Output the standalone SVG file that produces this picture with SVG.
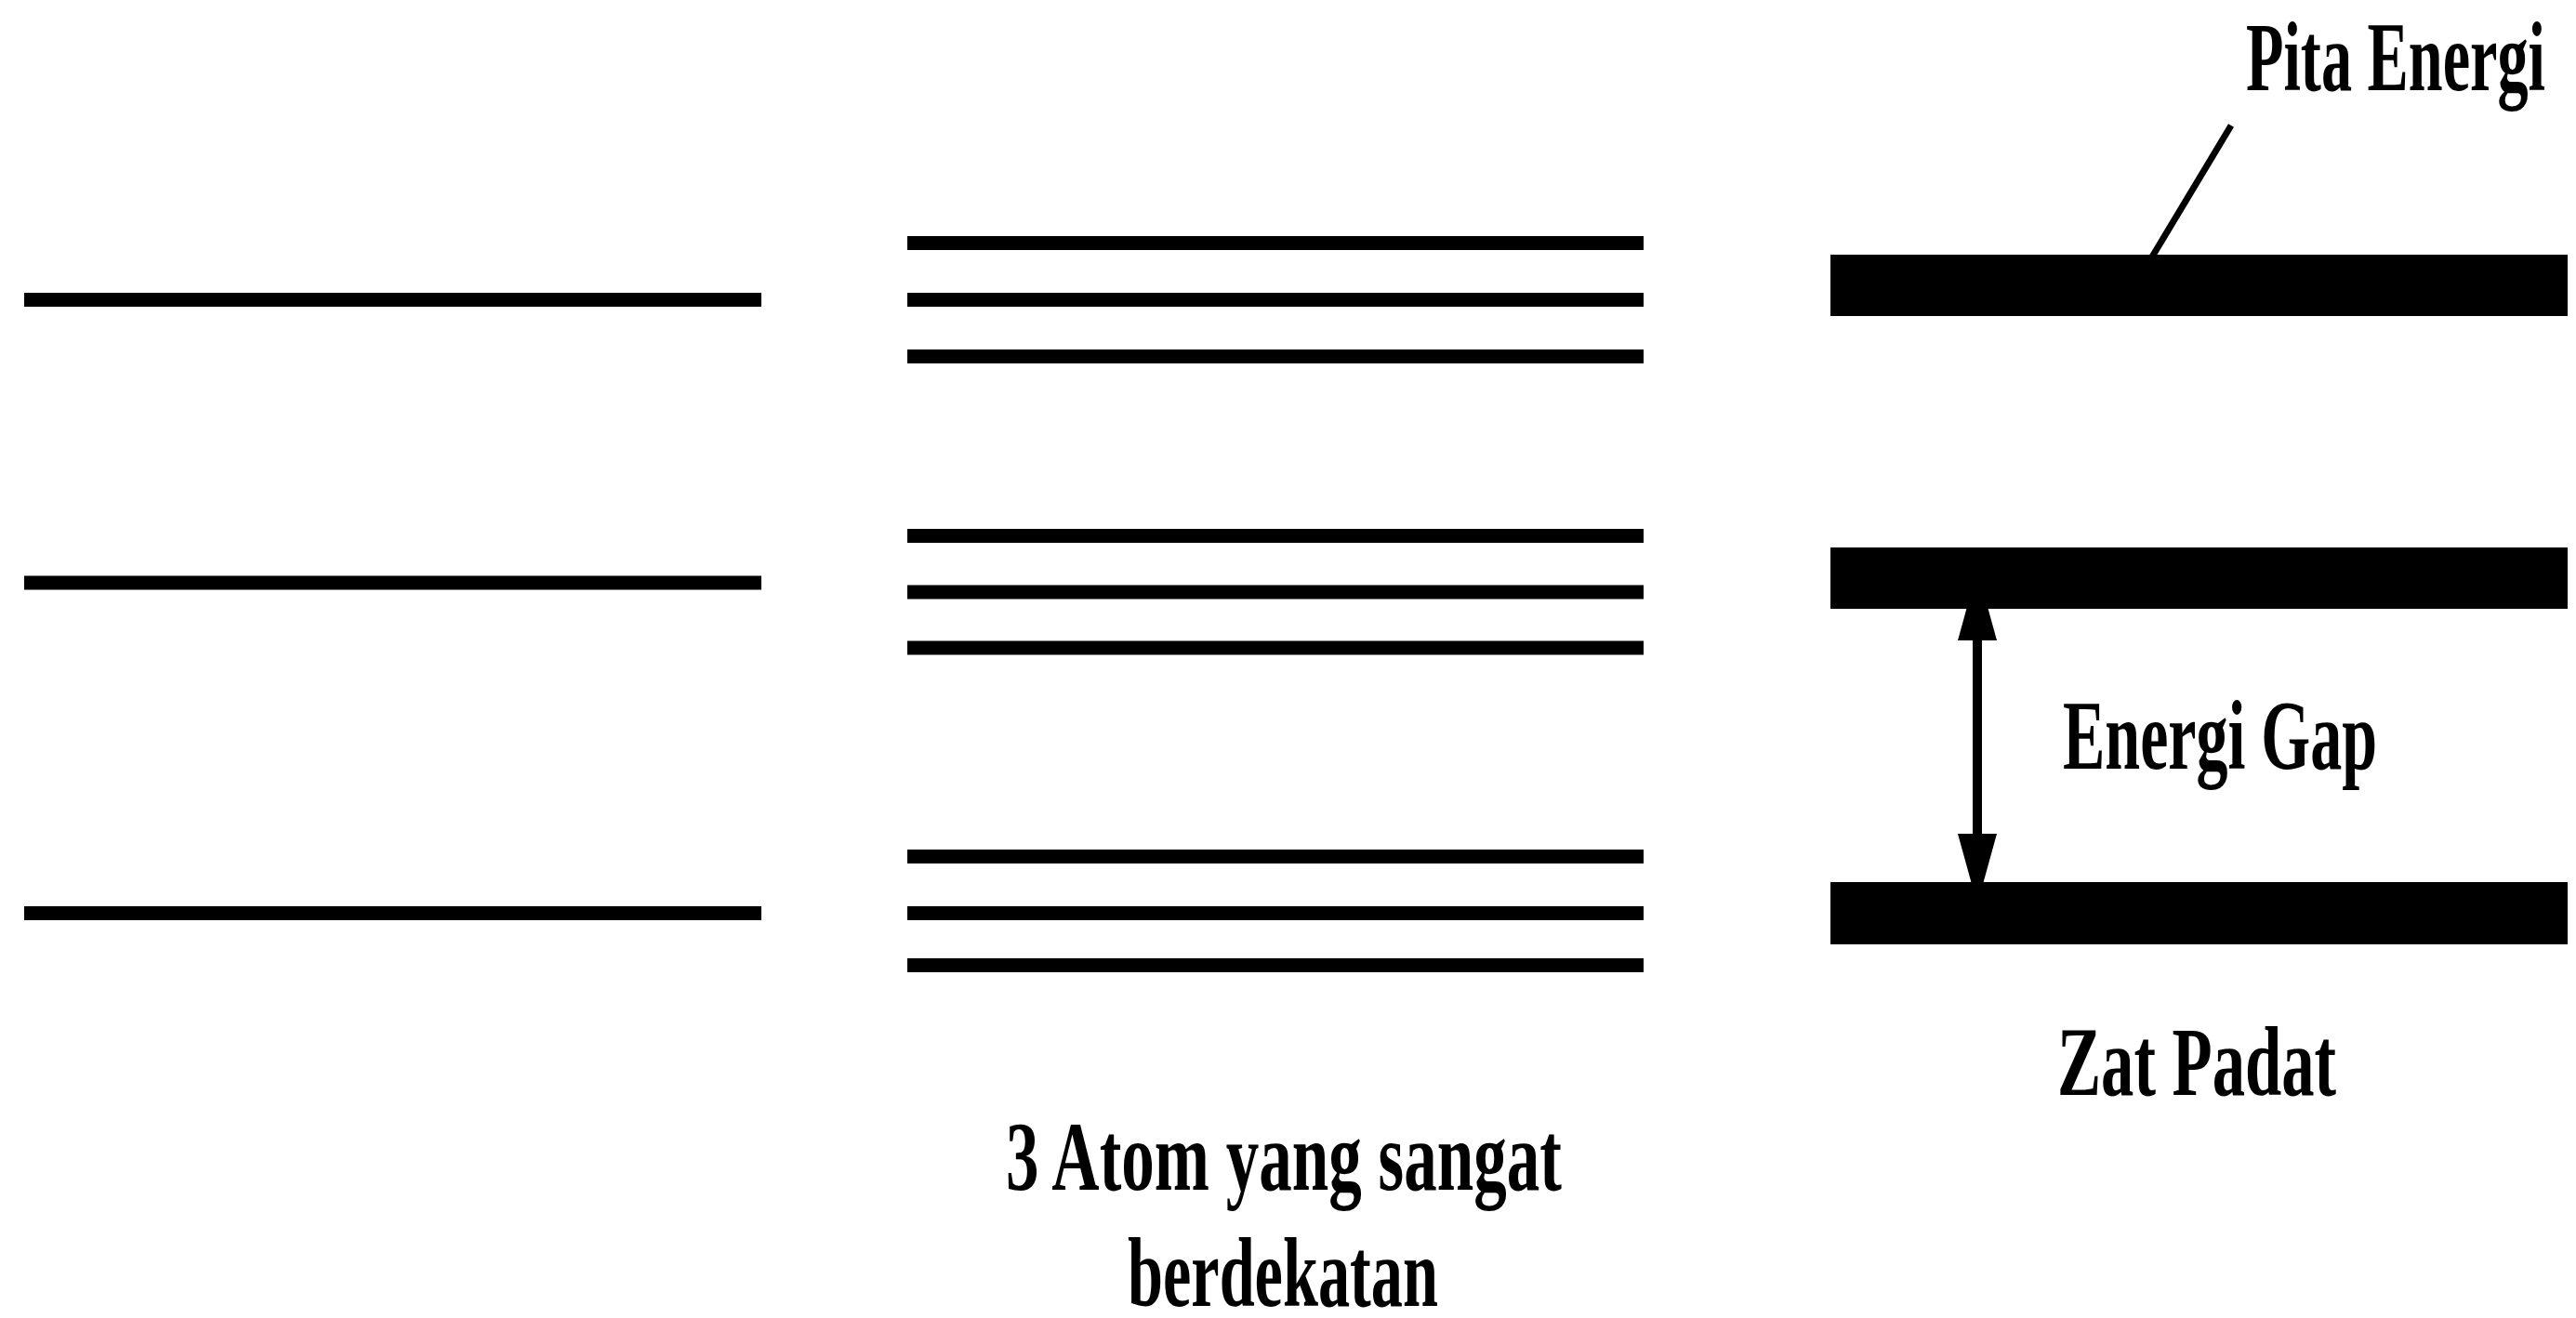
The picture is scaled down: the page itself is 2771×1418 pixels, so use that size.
<svg xmlns="http://www.w3.org/2000/svg" width="2771" height="1418" viewBox="0 0 2771 1418">
<style>
.lvl{stroke:#000;stroke-width:15;fill:none}
.band{fill:#000}
.lbl{font-family:"Liberation Serif","Times New Roman",serif;font-weight:bold;font-size:106px;fill:#000}
.conn{stroke:#000;fill:none}
</style>
<defs>
<marker id="head" markerUnits="userSpaceOnUse" markerWidth="76" markerHeight="42" refX="10" refY="21" orient="auto-start-reverse" viewBox="0 0 76 42">
<path d="M0,0 L76,21 L0,42 z" fill="#000"/>
</marker>
</defs>
<rect width="2771" height="1418" fill="#fff"/>
<g id="connectors">
<line class="conn" x1="2400" y1="135" x2="2314" y2="278" stroke-width="7"/>
<line class="conn" x1="2127" y1="679" x2="2127" y2="907" stroke-width="10" marker-start="url(#head)" marker-end="url(#head)"/>
</g>
<g id="atom-tunggal">
<line class="lvl" x1="26" y1="322.5" x2="819" y2="322.5"/>
<line class="lvl" x1="26" y1="627" x2="819" y2="627"/>
<line class="lvl" x1="26" y1="982.5" x2="819" y2="982.5"/>
</g>
<g id="tiga-atom">
<line class="lvl" x1="976" y1="261.5" x2="1768" y2="261.5"/>
<line class="lvl" x1="976" y1="322.5" x2="1768" y2="322.5"/>
<line class="lvl" x1="976" y1="383.5" x2="1768" y2="383.5"/>
<line class="lvl" x1="976" y1="576.5" x2="1768" y2="576.5"/>
<line class="lvl" x1="976" y1="637" x2="1768" y2="637"/>
<line class="lvl" x1="976" y1="697" x2="1768" y2="697"/>
<line class="lvl" x1="976" y1="921.5" x2="1768" y2="921.5"/>
<line class="lvl" x1="976" y1="982.5" x2="1768" y2="982.5"/>
<line class="lvl" x1="976" y1="1038.5" x2="1768" y2="1038.5"/>
<text class="lbl" x="1082" y="1280" textLength="598" lengthAdjust="spacingAndGlyphs">3 Atom yang sangat</text>
<text class="lbl" x="1213" y="1405" textLength="334" lengthAdjust="spacingAndGlyphs">berdekatan</text>
</g>
<g id="zat-padat">
<rect class="band" x="1969" y="274" width="793" height="66"/>
<rect class="band" x="1969" y="589" width="793" height="66"/>
<rect class="band" x="1969" y="949" width="793" height="67"/>
<text class="lbl" x="2213" y="1178" textLength="300" lengthAdjust="spacingAndGlyphs">Zat Padat</text>
</g>
<g id="label-pita">
<text class="lbl" x="2416" y="97" textLength="322" lengthAdjust="spacingAndGlyphs">Pita Energi</text>
</g>
<g id="label-gap">
<text class="lbl" x="2219" y="827" textLength="338" lengthAdjust="spacingAndGlyphs">Energi Gap</text>
</g>
</svg>
